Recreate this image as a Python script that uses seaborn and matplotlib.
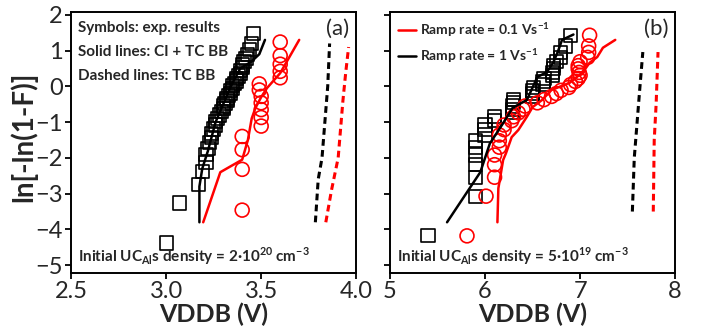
import matplotlib
matplotlib.use("Agg")
import matplotlib.pyplot as plt
import pandas as pd
import seaborn as sns

# ---- panel (a): initial UCAl density 2e20 cm-3 ----
a_sq_v = [3.00, 3.07, 3.17, 3.19, 3.21, 3.21, 3.22, 3.23, 3.24, 3.24,
          3.25, 3.26, 3.26, 3.27, 3.28, 3.29, 3.30, 3.30, 3.31, 3.32,
          3.32, 3.33, 3.34, 3.34, 3.35, 3.35, 3.36, 3.37, 3.37, 3.38,
          3.39, 3.39, 3.40, 3.40, 3.41, 3.42, 3.43, 3.44, 3.45, 3.46]
a_sq_y = [-4.38, -3.26, -2.74, -2.39, -2.13, -1.91, -1.73, -1.57, -1.43, -1.31,
          -1.19, -1.08, -0.98, -0.89, -0.80, -0.71, -0.63, -0.55, -0.48, -0.40,
          -0.33, -0.26, -0.19, -0.12, -0.05, 0.02, 0.08, 0.15, 0.22, 0.29,
          0.36, 0.44, 0.52, 0.60, 0.69, 0.78, 0.89, 1.02, 1.19, 1.48]
a_ci_v = [3.40, 3.40, 3.40, 3.40, 3.50, 3.50, 3.50, 3.50, 3.50, 3.49,
          3.49, 3.60, 3.60, 3.60, 3.60, 3.60]
a_ci_y = [-3.46, -2.32, -1.77, -1.40, -1.11, -0.87, -0.65, -0.46, -0.28, -0.10,
          0.07, 0.24, 0.42, 0.62, 0.86, 1.24]

a_blk_v = [3.175, 3.175, 3.19, 3.22, 3.26, 3.30, 3.34, 3.39, 3.45, 3.49, 3.52]
a_blk_y = [-3.8, -2.8, -2.3, -1.8, -1.0, -0.5, 0.0, 0.5, 0.7, 0.9, 1.3]
a_red_v = [3.195, 3.285, 3.40, 3.43, 3.45, 3.47, 3.50, 3.53, 3.60, 3.70]
a_red_y = [-3.8, -2.4, -2.05, -1.5, -0.9, -0.6, -0.3, -0.05, 0.37, 1.3]

a_blk_tc_v = [3.785, 3.80, 3.82, 3.835, 3.85, 3.86]
a_blk_tc_y = [-3.8, -2.6, -2.0, -1.0, 0.0, 1.2]
a_red_tc_v = [3.84, 3.87, 3.905, 3.93, 3.945, 3.96]
a_red_tc_y = [-3.8, -2.9, -2.0, -0.4, 0.4, 1.1]

# ---- panel (b): initial UCAl density 5e19 cm-3 ----
b_sq_v = [5.40, 5.90, 5.90, 5.90, 5.90, 5.90, 5.90, 6.00, 6.00, 6.00,
          6.10, 6.10, 6.29, 6.29, 6.29, 6.30, 6.30, 6.50, 6.50, 6.50,
          6.51, 6.61, 6.61, 6.62, 6.71, 6.71, 6.72, 6.72, 6.75, 6.79,
          6.79, 6.85, 6.90]
b_sq_y = [-4.18, -3.07, -2.54, -2.19, -1.92, -1.70, -1.52, -1.36, -1.21, -1.08,
          -0.96, -0.85, -0.74, -0.64, -0.55, -0.46, -0.37, -0.28, -0.20, -0.11,
          -0.03, 0.05, 0.14, 0.22, 0.31, 0.39, 0.49, 0.58, 0.69, 0.81,
          0.95, 1.13, 1.43]
b_ci_v = [5.81, 6.01, 6.10, 6.10, 6.10, 6.15, 6.15, 6.15, 6.20, 6.20,
          6.28, 6.30, 6.35, 6.40, 6.42, 6.55, 6.62, 6.70, 6.75, 6.80,
          6.88, 6.90, 6.95, 6.98, 7.00, 6.99, 6.98, 6.98, 7.00, 7.08,
          7.09, 7.09, 7.10]
b_ci_y = b_sq_y

b_blk_v = [5.60, 5.95, 6.05, 6.19, 6.29, 6.44, 6.55, 6.65, 6.72, 6.77, 6.81, 6.93]
b_blk_y = [-3.8, -2.4, -1.6, -1.03, -0.6, -0.38, 0.26, 0.4, 0.68, 1.0, 1.3, 1.45]
b_red_v = [6.13, 6.14, 6.19, 6.22, 6.28, 6.35, 6.44, 6.50, 6.60, 6.70,
           6.89, 7.03, 7.10, 7.18, 7.24, 7.37]
b_red_y = [-3.8, -2.85, -2.06, -1.87, -1.42, -1.22, -0.85, -0.58, -0.38, -0.1,
           0.1, 0.4, 0.66, 0.82, 1.08, 1.3]

b_blk_tc_v = [7.55, 7.57, 7.60, 7.63, 7.66]
b_blk_tc_y = [-3.5, -2.0, -1.0, 0.0, 0.96]
b_red_tc_v = [7.77, 7.78, 7.80, 7.82]
b_red_tc_y = [-3.5, -1.5, -0.5, 0.96]

sns.set_theme(style="ticks")
plt.rcParams["font.family"] = ["Lato", "DejaVu Sans"]
plt.rcParams["mathtext.fontset"] = "custom"
plt.rcParams["mathtext.rm"] = "Lato"
plt.rcParams["mathtext.bf"] = "Lato:bold"
plt.rcParams["axes.linewidth"] = 1.4
plt.rcParams["axes.edgecolor"] = "black"

fig = plt.figure(figsize=(7.04, 3.33), dpi=100)
ax_a = fig.add_axes([0.101, 0.180, 0.405, 0.784])
ax_b = fig.add_axes([0.554, 0.180, 0.405, 0.784])

RED = "#ff0000"
dash = (0, (2.2, 1.4))


def draw(ax, sq_v, sq_y, ci_v, ci_y, blk, red, blk_tc, red_tc, legend=False):
    sns.scatterplot(x=sq_v, y=sq_y, ax=ax, marker="s", s=90,
                    facecolors="none", edgecolor="black", linewidth=1.2)
    sns.scatterplot(x=ci_v, y=ci_y, ax=ax, marker="o", s=100,
                    facecolors="none", edgecolor=RED, linewidth=1.2)
    sns.lineplot(x=red[0], y=red[1], ax=ax, sort=False, estimator=None,
                 color=RED, lw=1.8, label="Ramp rate = 0.1 Vs$^{\\mathbf{-1}}$" if legend else None)
    sns.lineplot(x=blk[0], y=blk[1], ax=ax, sort=False, estimator=None,
                 color="black", lw=1.8, label="Ramp rate = 1 Vs$^{\\mathbf{-1}}$" if legend else None)
    sns.lineplot(x=blk_tc[0], y=blk_tc[1], ax=ax, sort=False, estimator=None,
                 color="black", lw=2.2, linestyle=dash)
    sns.lineplot(x=red_tc[0], y=red_tc[1], ax=ax, sort=False, estimator=None,
                 color=RED, lw=2.2, linestyle=dash)


draw(ax_a, a_sq_v, a_sq_y, a_ci_v, a_ci_y, (a_blk_v, a_blk_y), (a_red_v, a_red_y),
     (a_blk_tc_v, a_blk_tc_y), (a_red_tc_v, a_red_tc_y))
draw(ax_b, b_sq_v, b_sq_y, b_ci_v, b_ci_y, (b_blk_v, b_blk_y), (b_red_v, b_red_y),
     (b_blk_tc_v, b_blk_tc_y), (b_red_tc_v, b_red_tc_y), legend=True)

for ax in (ax_a, ax_b):
    ax.set_ylim(-5.22, 2.08)
    ax.set_yticks(range(-5, 3))
    ax.tick_params(direction="out", length=4, width=1.3, labelsize=17, color="black", pad=2)
    ax.set_xlabel("VDDB (V)", fontsize=18, fontweight="bold", labelpad=0)
    for s in ax.spines.values():
        s.set_visible(True)

ax_a.set_xlim(2.5, 4.0)
ax_a.set_xticks([2.5, 3.0, 3.5, 4.0])
ax_a.set_xticklabels(["2.5", "3.0", "3.5", "4.0"])
ax_a.set_ylabel("ln[-ln(1-F)]", fontsize=20, fontweight="bold")
ax_a.yaxis.set_label_coords(-0.118, 0.52)

ax_b.set_xlim(5, 8)
ax_b.set_xticks([5, 6, 7, 8])
ax_b.set_yticklabels([])
ax_b.set_ylabel("")

notes = ["Symbols: exp. results", "Solid lines: CI + TC BB", "Dashed lines: TC BB"]
for i, t in enumerate(notes):
    ax_a.text(0.025, 0.965 - i * 0.092, t, transform=ax_a.transAxes, fontsize=11,
              fontweight="bold", va="top", ha="left")
ax_a.text(0.975, 0.975, "(a)", transform=ax_a.transAxes, fontsize=16, va="top", ha="right")
ax_b.text(0.975, 0.975, "(b)", transform=ax_b.transAxes, fontsize=16, va="top", ha="right")

ax_a.text(0.025, 0.025, "Initial UC$_{\\mathbf{Al}}$s density = 2·10$^{\\mathbf{20}}$ cm$^{\\mathbf{-3}}$",
          transform=ax_a.transAxes, fontsize=11, fontweight="bold", va="bottom", ha="left")
ax_b.text(0.025, 0.025, "Initial UC$_{\\mathbf{Al}}$s density = 5·10$^{\\mathbf{19}}$ cm$^{\\mathbf{-3}}$",
          transform=ax_b.transAxes, fontsize=11, fontweight="bold", va="bottom", ha="left")

leg = ax_b.legend(loc="upper left", frameon=False, fontsize=10, handlelength=1.3,
                  handletextpad=0.25, labelspacing=0.55, borderaxespad=0.2)
for t in leg.get_texts():
    t.set_fontweight("bold")

fig.savefig("out.png", dpi=100)
